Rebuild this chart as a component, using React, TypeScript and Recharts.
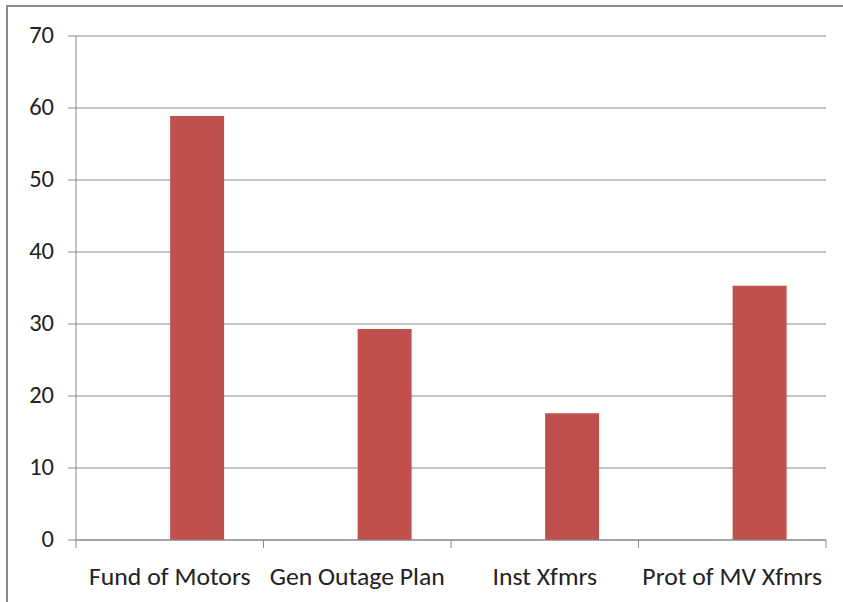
import { BarChart, Bar, XAxis, YAxis, CartesianGrid } from "recharts";

const CATEGORIES = ["Fund of Motors", "Gen Outage Plan", "Inst Xfmrs", "Prot of MV Xfmrs"];
const VALUES = [58.9, 29.3, 17.6, 35.3];
const Y_TICKS = [0, 10, 20, 30, 40, 50, 60, 70];

const W = 843;
const H = 602;
const MARGIN = { top: 36, right: 17, left: 0, bottom: 22 };
const YAXIS_W = 76;
const BAND = (W - MARGIN.left - MARGIN.right - YAXIS_W) / CATEGORIES.length;

// Calibri stand-in; category labels widened a touch to match its width
const FONT = "Carlito, Lato, 'Open Sans', sans-serif";
const FONT_SIZE = 24.5;
const STRETCH = 1.05;
const TEXT = "#222";
const LINE = "#888";

const data = CATEGORIES.map((name, i) => ({ name, blank: null, value: VALUES[i] }));

function CategoryTick(props: any) {
  const { x, y, payload, index } = props;
  const left = x - BAND / 2;
  const right = x + BAND / 2;
  return (
    <g>
      <line x1={left} x2={left} y1={y} y2={y + 8} stroke={LINE} />
      {index === CATEGORIES.length - 1 && (
        <line x1={right} x2={right} y1={y} y2={y + 8} stroke={LINE} />
      )}
      <text
        transform={`translate(${x},${y + 45}) scale(${STRETCH},1)`}
        textAnchor="middle"
        fill={TEXT}
        fontSize={FONT_SIZE}
        fontFamily={FONT}
      >
        {payload.value}
      </text>
    </g>
  );
}

function ValueTick(props: any) {
  const { x, y, payload } = props;
  return (
    <text
      x={x}
      y={y}
      dy="0.3em"
      textAnchor="end"
      fill={TEXT}
      fontSize={FONT_SIZE}
      fontFamily={FONT}
    >
      {payload.value}
    </text>
  );
}

export default function App() {
  return (
    <div style={{ position: "absolute", left: 0, top: 0, width: W, height: H, background: "white" }}>
      <div
        style={{
          position: "absolute",
          left: 6,
          top: 5,
          width: W,
          height: H,
          borderTop: "2px solid #8a8a8a",
          borderLeft: "2px solid #8a8a8a",
        }}
      />
      <div style={{ position: "absolute", left: 0, top: 0 }}>
        <BarChart
          width={W}
          height={H}
          data={data}
          margin={MARGIN}
          barCategoryGap="21.4%"
          barGap={0}
        >
          <CartesianGrid vertical={false} stroke={LINE} />
          <XAxis
            dataKey="name"
            height={40}
            tickLine={false}
            tickSize={0}
            tickMargin={0}
            axisLine={{ stroke: LINE }}
            tick={<CategoryTick />}
            interval={0}
          />
          <YAxis
            width={YAXIS_W}
            domain={[0, 70]}
            ticks={Y_TICKS}
            tickSize={8}
            tickMargin={14}
            tickLine={{ stroke: LINE }}
            axisLine={{ stroke: LINE }}
            tick={<ValueTick />}
          />
          <Bar dataKey="blank" fill="#4F81BD" isAnimationActive={false} />
          <Bar dataKey="value" fill="#C0504D" isAnimationActive={false} />
        </BarChart>
      </div>
    </div>
  );
}
